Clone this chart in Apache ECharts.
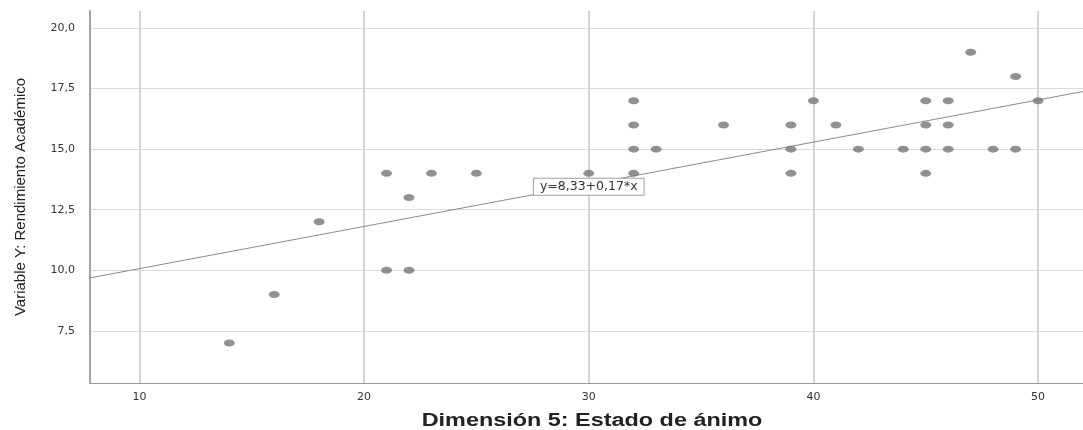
<!DOCTYPE html>
<html>
<head>
<meta charset="utf-8">
<script src="https://cdn.jsdelivr.net/npm/echarts@6/dist/echarts.min.js"></script>
<style>
html,body{margin:0;padding:0;background:#fff;}
#chart{width:1083px;height:430px;}
</style>
</head>
<body>
<div id="chart"></div>
<script>
// Data
var xValues = [14, 16, 18, 21, 21, 22, 22, 23, 25, 30, 32, 32, 32, 32, 33, 36, 39, 39, 39, 40, 41, 42, 44, 45, 45, 45, 45, 46, 46, 46, 47, 48, 49, 49, 50];
var yValues = [7, 9, 12, 14, 10, 13, 10, 14, 14, 14, 17, 16, 15, 14, 15, 16, 16, 15, 14, 17, 16, 15, 15, 17, 16, 15, 14, 17, 16, 15, 19, 15, 18, 15, 17];
var xTicks = [10, 20, 30, 40, 50];
var yTicks = [7.5, 10, 12.5, 15, 17.5, 20];
var fitCoef = [8.33, 0.174]; // intercept, slope of the drawn fit line
var fitLabel = 'y=8,33+0,17*x';
var xTitle = 'Dimensión 5: Estado de ánimo';
var yTitle = 'Variable Y: Rendimiento Académico';
var xRange = [7.8, 52];
var yRange = [5.35, 20.7];

var points = xValues.map(function (x, i) { return [x, yValues[i]]; });
var fitLine = xRange.map(function (x) { return [x, fitCoef[0] + fitCoef[1] * x]; });

var chart = echarts.init(document.getElementById('chart'), null, {renderer: 'canvas'});
chart.setOption({
  animation: false,
  backgroundColor: '#ffffff',
  grid: {left: 90, right: 0, top: 11, bottom: 47, containLabel: false},
  xAxis: {
    type: 'value', min: xRange[0], max: xRange[1],
    axisLine: {show: true, onZero: false, lineStyle: {color: '#9a9a9a', width: 1}},
    axisTick: {show: false, customValues: xTicks},
    axisLabel: {customValues: xTicks, fontSize: 11, color: '#333', fontFamily: 'DejaVu Sans', margin: 9},
    splitLine: {show: true, lineStyle: {color: '#d4d4d4', width: 2}}
  },
  yAxis: {
    type: 'value', min: yRange[0], max: yRange[1],
    name: yTitle, nameLocation: 'middle', nameGap: 62,
    nameTextStyle: {fontSize: 15, color: '#222', fontFamily: 'Liberation Sans'},
    axisLine: {show: true, onZero: false, lineStyle: {color: '#a3a3a3', width: 2}},
    axisTick: {show: false, customValues: yTicks},
    axisLabel: {customValues: yTicks, fontSize: 11, color: '#333', fontFamily: 'DejaVu Sans', margin: 15,
      formatter: function (v) { return v.toFixed(1).replace('.', ','); }},
    splitLine: {show: true, lineStyle: {color: '#dadada', width: 1}}
  },
  series: [
    {
      type: 'line', data: fitLine, symbol: 'none', silent: true, z: 1,
      lineStyle: {color: '#8a8a8a', width: 1},
      markPoint: {
        symbol: 'rect', symbolSize: 0, silent: true,
        data: [{coord: [30, 13.45], value: fitLabel}],
        label: {
          show: true, position: 'inside', formatter: fitLabel,
          fontFamily: 'DejaVu Sans', fontSize: 12.5, color: '#333',
          backgroundColor: '#ffffff', borderColor: '#a0a0a0', borderWidth: 1,
          padding: [2, 6, 1, 6]
        }
      }
    },
    {
      type: 'scatter', data: points, z: 3,
      symbol: 'circle', symbolSize: [11, 7],
      itemStyle: {color: '#767676'}
    }
  ],
  graphic: [{
    type: 'text', x: 592, y: 421, scaleX: 1.3, silent: true,
    style: {text: xTitle, font: 'bold 18px "Liberation Sans"', fill: '#222',
      textAlign: 'center', textVerticalAlign: 'middle', align: 'center', verticalAlign: 'middle'}
  }]
});
</script>
</body>
</html>
